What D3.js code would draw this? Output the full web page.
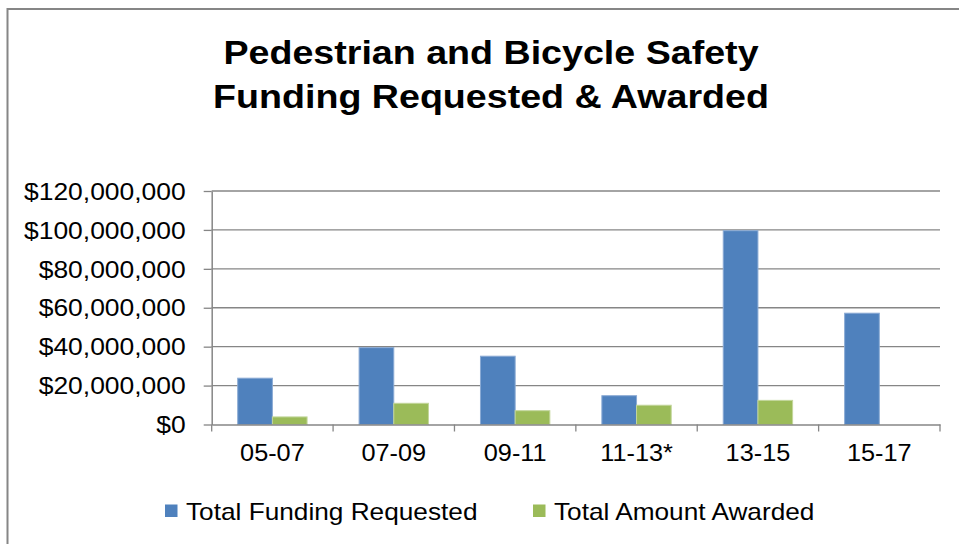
<!DOCTYPE html>
<html>
<head>
<meta charset="utf-8">
<script src="https://cdn.jsdelivr.net/npm/d3@7/dist/d3.min.js"></script>
<style>
  html, body { margin: 0; padding: 0; background: #fff; }
  svg { display: block; }
  text { font-family: "Liberation Sans", Arial, sans-serif; fill: #000; }
</style>
</head>
<body>
<svg id="chart" width="959" height="544"></svg>
<script>
const categories = ["05-07", "07-09", "09-11", "11-13*", "13-15", "15-17"];
const seriesNames = ["Total Funding Requested", "Total Amount Awarded"];
const requested = [23800000, 39500000, 35100000, 14800000, 99600000, 57200000];
const awarded = [3900000, 10900000, 7100000, 9900000, 12400000, 0];
const yTicks = [0, 20000000, 40000000, 60000000, 80000000, 100000000, 120000000];
const colors = ["#4F81BD", "#9BBB59"];
const strokes = ["#8aaad4", "#c3d69b"];
const titleLines = ["Pedestrian and Bicycle Safety", "Funding Requested & Awarded"];

(function () {
const svg = d3.select("#chart");

// outer chart border
svg.append("rect")
  .attr("x", 7.5).attr("y", 9).attr("width", 1000).attr("height", 600)
  .attr("fill", "#fff").attr("stroke", "#868686").attr("stroke-width", 2);

// title
titleLines.forEach((t, i) => {
  svg.append("text")
    .attr("transform", `translate(491,${64 + i * 44}) scale(1.14,1)`)
    .attr("text-anchor", "middle")
    .style("font-size", "33px").style("font-weight", "bold")
    .text(t);
});

const pLeft = 211.7, pRight = 940, pTop = 191, pBottom = 424.5;
const x = d3.scaleBand().domain(categories).range([pLeft, pRight]).paddingInner(0).paddingOuter(0);
const xs = d3.scaleBand().domain(seriesNames).range([0, x.bandwidth()]).paddingInner(0).paddingOuter(0.75);
const y = d3.scaleLinear().domain([0, 120000000]).range([pBottom, pTop]);
const fmt = v => "$" + d3.format(",")(v);

// gridlines
svg.append("g").selectAll("line").data(yTicks.filter(v => v > 0)).join("line")
  .attr("x1", pLeft).attr("x2", pRight)
  .attr("y1", d => y(d)).attr("y2", d => y(d))
  .attr("stroke", "#868686").attr("stroke-width", 1.3);

// bars
const data = categories.map((c, i) => ({ c, vals: [requested[i], awarded[i]] }));
const groups = svg.append("g").selectAll("g").data(data).join("g")
  .attr("transform", d => `translate(${x(d.c)},0)`);
groups.selectAll("rect")
  .data(d => d.vals.map((v, j) => ({ v, j })).filter(e => e.v > 0))
  .join("rect")
  .attr("x", e => xs(seriesNames[e.j]))
  .attr("width", xs.bandwidth())
  .attr("y", e => y(e.v))
  .attr("height", e => y(0) - y(e.v))
  .attr("fill", e => colors[e.j])
  .attr("stroke", e => strokes[e.j]).attr("stroke-width", 1);

// y axis
const yAxis = d3.axisLeft(y).tickValues(yTicks).tickSize(8).tickSizeOuter(0).tickFormat(fmt);
const gy = svg.append("g").attr("transform", `translate(${pLeft},0)`).call(yAxis);
gy.select(".domain").attr("stroke", "#868686").attr("stroke-width", 1.5);
gy.selectAll(".tick line").attr("stroke", "#868686").attr("stroke-width", 1.3);
gy.selectAll(".tick text")
  .attr("x", null).attr("dy", null)
  .attr("transform", "translate(-26,8.2) scale(1.15,1)")
  .attr("text-anchor", "end")
  .style("font-size", "23px").style("font-family", '"Liberation Sans", Arial, sans-serif').attr("fill", "#000");

// x axis
const xAxis = d3.axisBottom(x).tickSize(0).tickSizeOuter(0);
const gx = svg.append("g").attr("transform", `translate(0,${pBottom})`).call(xAxis);
gx.select(".domain").attr("stroke", "#868686").attr("stroke-width", 1.5);
gx.selectAll(".tick text")
  .attr("y", null).attr("dy", null)
  .attr("transform", "translate(0,36.5) scale(1.1,1)")
  .attr("text-anchor", "middle")
  .style("font-size", "23px").style("font-family", '"Liberation Sans", Arial, sans-serif').attr("fill", "#000");
// category boundary ticks
const bounds = categories.map(c => x(c)).concat([x.range()[1]]);
svg.append("g").selectAll("line").data(bounds).join("line")
  .attr("x1", d => d).attr("x2", d => d)
  .attr("y1", pBottom).attr("y2", pBottom + 7)
  .attr("stroke", "#868686").attr("stroke-width", 1.3);

// legend
const legendX = [165, 533];
seriesNames.forEach((n, i) => {
  svg.append("rect").attr("x", legendX[i]).attr("y", 504.5).attr("width", 12.5).attr("height", 12.5)
    .attr("fill", colors[i]);
  svg.append("text")
    .attr("transform", `translate(${legendX[i] + 21},${519.5}) scale(1.14,1)`)
    .style("font-size", "23px")
    .text(n);
});
})();
</script>
</body>
</html>
